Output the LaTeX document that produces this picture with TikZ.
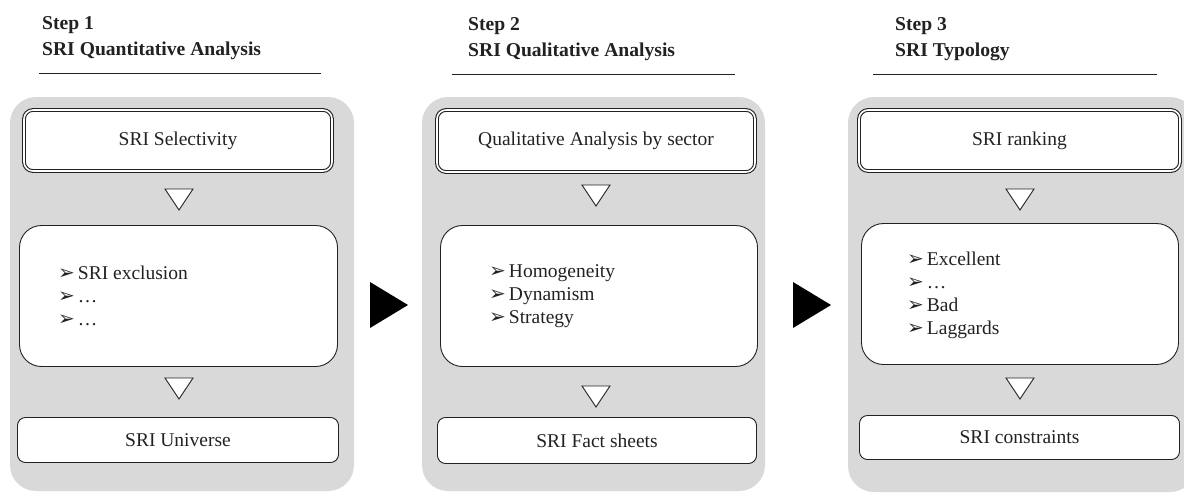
\documentclass[tikz,border=0pt]{standalone}
\usepackage{fontspec}
\setmainfont{Liberation Serif}
\newfontfamily\dejavu{DejaVu Sans}
\definecolor{panelgray}{HTML}{D9D9D9}
\definecolor{ink}{HTML}{222222}
\newcommand{\blt}{{\dejavu\fontsize{20}{20}\selectfont ➢}\hspace{3pt}}
\begin{document}
\begin{tikzpicture}[x=1pt,y=-1pt,
  panel/.style={fill=panelgray, rounded corners=26pt},
  topbox/.style={draw=ink, double=white, double distance=1.6pt, line width=1.1pt, fill=white, rounded corners=9pt, inner sep=0pt, font=\fontsize{19.5}{23}\selectfont, text=ink},
  midbox/.style={draw=ink, line width=0.9pt, fill=white, rounded corners=22pt, inner sep=0pt},
  botbox/.style={draw=ink, line width=0.9pt, fill=white, rounded corners=8pt, inner sep=0pt, font=\fontsize{19.5}{23}\selectfont, text=ink},
  listtext/.style={anchor=west, align=left, inner sep=0pt, font=\fontsize{19.5}{23}\selectfont, text=ink},
  titletext/.style={anchor=base west, inner sep=0pt, font=\bfseries\fontsize{19.6}{23}\selectfont, text=ink},
  rule/.style={draw=ink, line width=0.9pt},
  tri/.style={draw=ink, line width=0.9pt, fill=white, line join=miter},
  bigarrow/.style={fill=black}
]
\useasboundingbox (0,0) rectangle (1184,493);
\fill[white] (0,0) rectangle (1184,493);

% panels
\fill[panel] (10,97) rectangle (354,491);
\fill[panel] (422,97) rectangle (765,491);
\fill[panel] (848,97) rectangle (1196,492);

% titles
\node[titletext] (s1) at (42,29) {Step 1};
\node[titletext] (h1) at (42,55) {SRI Quantitative Analysis};
\coordinate (r1a) at (39,73); \coordinate (r1b) at (321,73);
\draw[rule] (r1a) -- (r1b);

\node[titletext] (s2) at (468,30) {Step 2};
\node[titletext] (h2) at (468,56) {SRI Qualitative Analysis};
\coordinate (r2a) at (452,74); \coordinate (r2b) at (735,74);
\draw[rule] (r2a) -- (r2b);

\node[titletext] (s3) at (895,30) {Step 3};
\node[titletext] (h3) at (895,56) {SRI Typology};
\coordinate (r3a) at (873,74); \coordinate (r3b) at (1157,74);
\draw[rule] (r3a) -- (r3b);

% top boxes
\node[topbox, minimum width=308pt, minimum height=61pt] (t1) at (178,140.5) {SRI Selectivity};
\node[topbox, minimum width=318pt, minimum height=62pt] (t2) at (596,141) {Qualitative Analysis by sector};
\node[topbox, minimum width=321pt, minimum height=61pt] (t3) at (1019.5,140.5) {SRI ranking};

% middle boxes
\node[midbox, minimum width=318pt, minimum height=141pt] (m1) at (178.5,296) {};
\node[midbox, minimum width=317pt, minimum height=141pt] (m2) at (599,296) {};
\node[midbox, minimum width=317pt, minimum height=141pt] (m3) at (1020,294) {};

\node[listtext] (l1) at (58,296) {\blt SRI exclusion\\ \blt \textellipsis\\ \blt \textellipsis};
\node[listtext] (l2) at (489,296) {\blt Homogeneity\\ \blt Dynamism\\ \blt Strategy};
\node[listtext] (l3) at (907,295) {\blt Excellent\\ \blt \textellipsis\\ \blt Bad\\ \blt Laggards};

% bottom boxes
\node[botbox, minimum width=321pt, minimum height=45pt] (b1) at (178,440) {SRI Universe};
\node[botbox, minimum width=319pt, minimum height=46pt] (b2) at (597,440.5) {SRI Fact sheets};
\node[botbox, minimum width=320pt, minimum height=44pt] (b3) at (1019.5,437.5) {SRI constraints};

% down triangles
\draw[tri] (165,189) -- (193,189) -- (179,210) -- cycle;
\draw[tri] (165,378) -- (193,378) -- (179,399) -- cycle;
\draw[tri] (582,185) -- (610,185) -- (596,206) -- cycle;
\draw[tri] (582,386) -- (610,386) -- (596,407) -- cycle;
\draw[tri] (1006,189) -- (1034,189) -- (1020,210) -- cycle;
\draw[tri] (1006,378) -- (1034,378) -- (1020,399) -- cycle;

% big arrows between steps
\fill[bigarrow] (370,282) -- (408,305) -- (370,328) -- cycle;
\fill[bigarrow] (793,282) -- (831,305) -- (793,328) -- cycle;
\end{tikzpicture}
\end{document}
